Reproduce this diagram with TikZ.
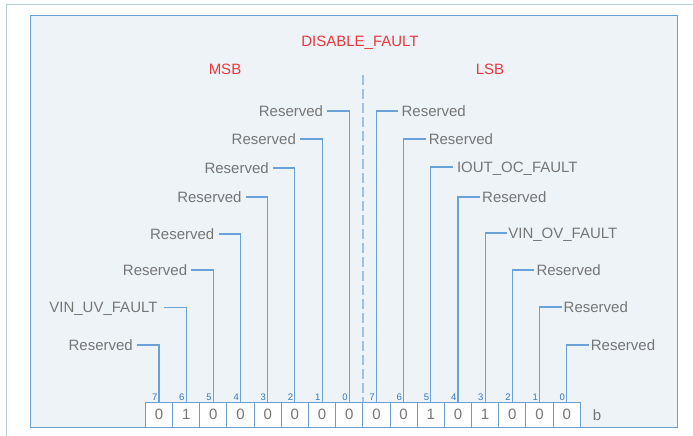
\documentclass[tikz,border=0pt]{standalone}
\usepackage{fontspec}
\setmainfont{Liberation Sans}
\usetikzlibrary{calc}
\definecolor{framecol}{HTML}{B7CFD4}
\definecolor{panelfill}{HTML}{EEF3F8}
\definecolor{panelline}{HTML}{6A9FD3}
\definecolor{conncol}{HTML}{69A2D8}
\definecolor{dashcol}{HTML}{9CC2E5}
\definecolor{txtgray}{HTML}{767676}
\definecolor{txtred}{HTML}{E8383D}
\definecolor{idxblue}{HTML}{2F78C4}
\begin{document}
\begin{tikzpicture}[x=1pt,y=-1pt,
 lbl/.style={font=\fontsize{15}{17}\selectfont, text=txtgray, inner sep=0pt, text height=10.7pt, text depth=0pt},
 ttl/.style={lbl, text=txtred},
 bitbox/.style={draw=panelline, fill=white, line width=1.05pt, minimum width=27.18pt, minimum height=25.3pt, inner sep=0pt, font=\fontsize{15}{17}\selectfont, text=txtgray},
 idx/.style={font=\fontsize{9.5}{10}\selectfont, text=idxblue, inner sep=0pt, anchor=south east},
 conn/.style={draw=conncol, line width=1.05pt},
 dashline/.style={draw=dashcol, line width=1.6pt, dash pattern=on 10pt off 4pt}]
\useasboundingbox (0,0) rectangle (693,436);
% page frame
\draw[framecol, line width=1.3pt] (6.7,436) -- (6.7,4.3) -- (693,4.3);
% panel
\draw[draw=panelline, fill=panelfill, line width=1.1pt] (30.3,15.3) rectangle (677.3,427.3);
% titles
\node[ttl] (title) at (360,40.7) {DISABLE\_FAULT};
\node[ttl] (msb) at (225,69) {MSB};
\node[ttl] (lsb) at (490,69) {LSB};
% bit boxes
\foreach \v [count=\i from 0] in {0,1,0,0,0,0,0,0,0,0,1,0,1,0,0,0} {
  \node[bitbox] (b\i) at ({159+27.18*\i},414.7) {\v};
  \pgfmathtruncatemacro\k{7-mod(\i,8)}
  \node[idx] (n\i) at ([xshift=-1.5pt,yshift=1.2pt]b\i.north) {\k};
}
\node[lbl] (bsuf) at (597,414.7) {b};
% separator
\coordinate (dtop) at (362.7,75);
\draw[dashline] (dtop) -- (dtop |- b7.north);
% left labels
\foreach \i/\t/\y/\g in {0/Reserved/345/4, 1/VIN\_UV\_FAULT/307.5/6.5, 2/Reserved/270/4, 3/Reserved/234/4, 4/Reserved/197/4, 5/Reserved/168/4, 6/Reserved/139/4, 7/Reserved/111/4} {
  \node[lbl, anchor=east] (L\i) at ({159+27.18*\i-22-\g},\y) {\t};
  \draw[conn] ([xshift=\g pt]L\i.east) -| (b\i.north);
}
% right labels
\foreach \i/\t/\y/\g in {8/Reserved/111/3, 9/Reserved/139/3, 10/IOUT\_OC\_FAULT/167/4, 11/Reserved/197/2, 12/VIN\_OV\_FAULT/233/1, 13/Reserved/270/2, 14/Reserved/307/2, 15/Reserved/345/2} {
  \node[lbl, anchor=west] (R\i) at ({159+27.18*\i+22+\g},\y) {\t};
  \draw[conn] ([xshift=-\g pt]R\i.west) -| (b\i.north);
}
\end{tikzpicture}
\end{document}
